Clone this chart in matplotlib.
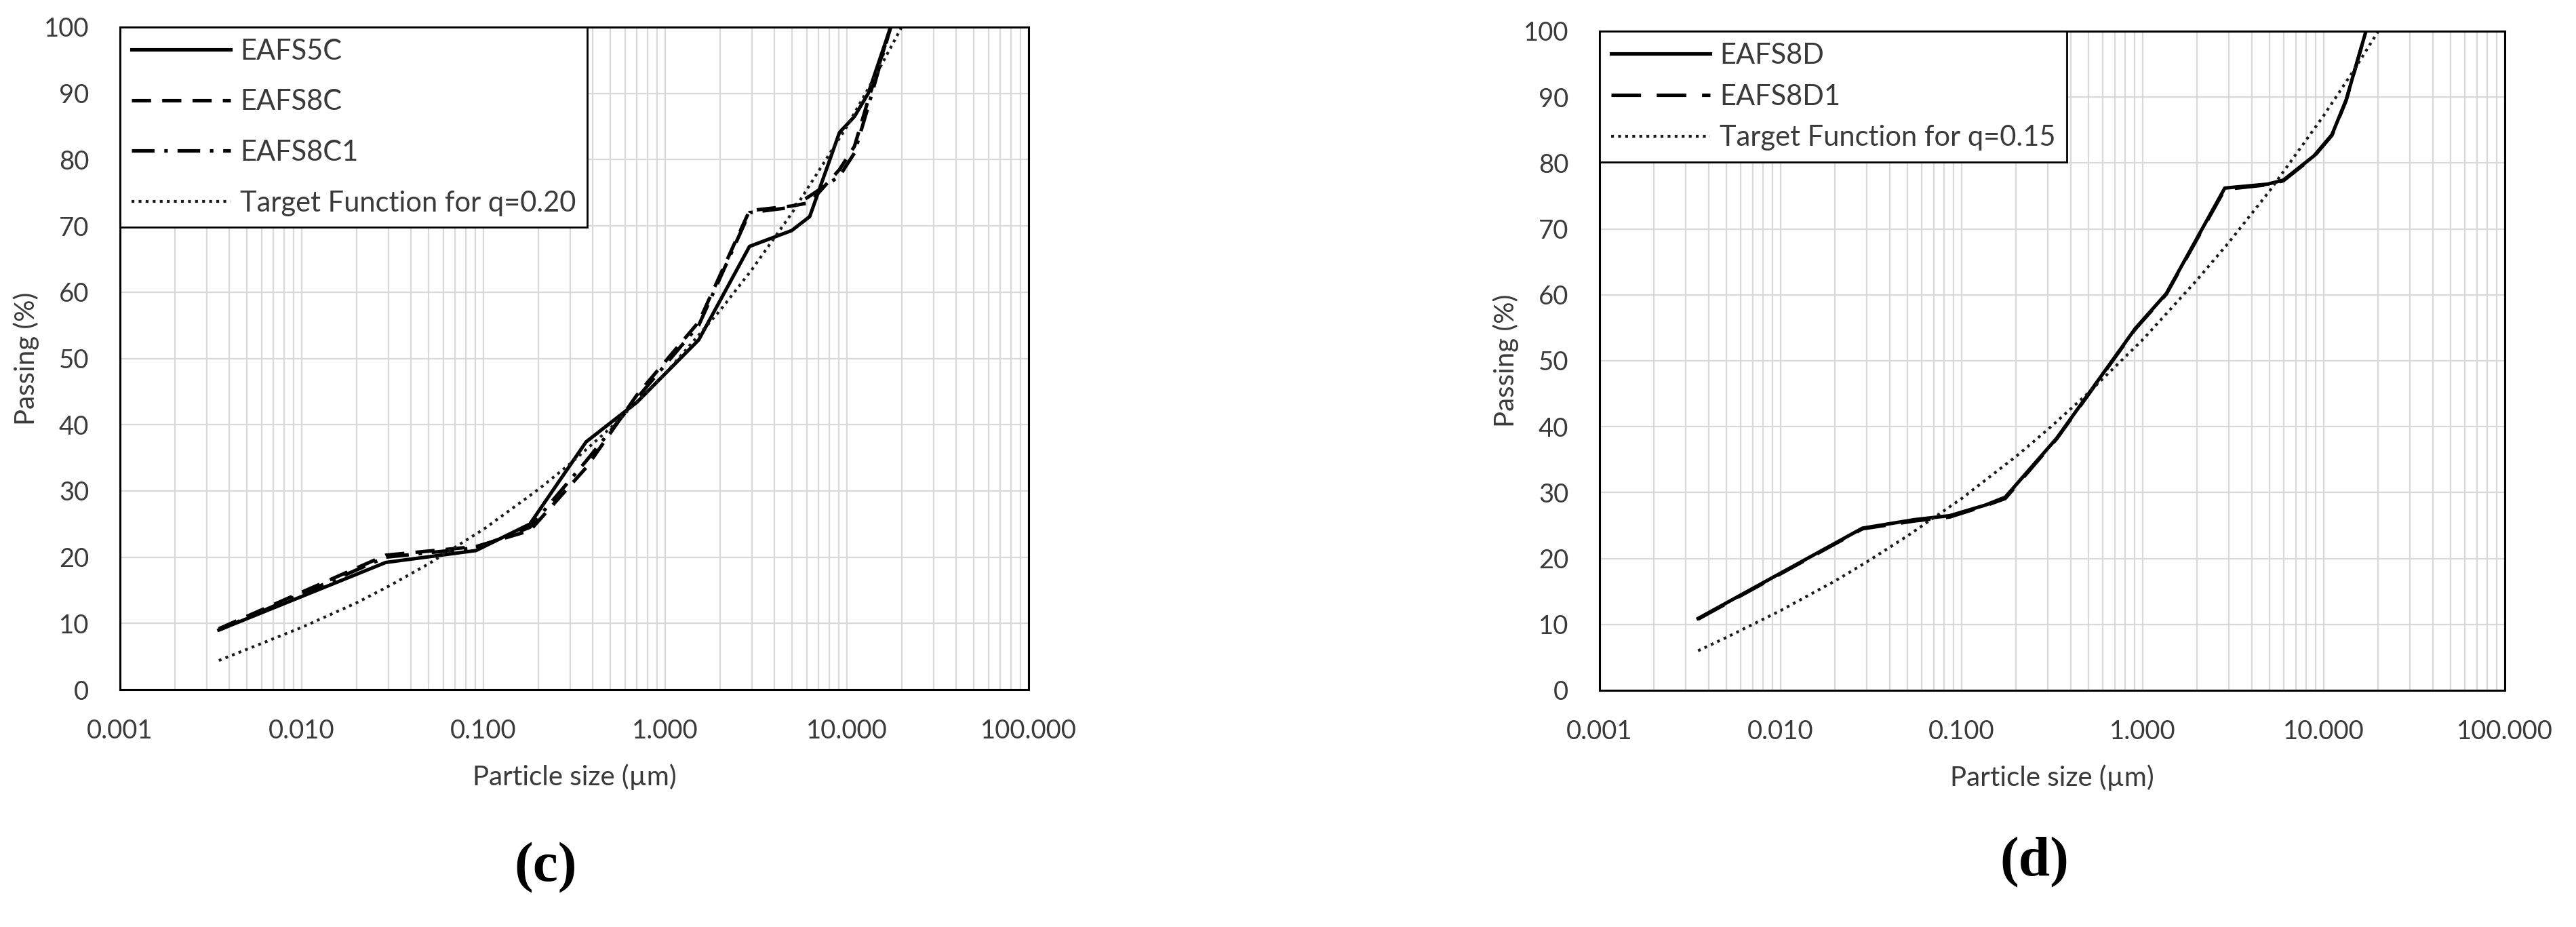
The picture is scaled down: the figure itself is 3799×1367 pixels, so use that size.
import matplotlib
matplotlib.use("Agg")
import matplotlib.pyplot as plt
from matplotlib.ticker import FixedLocator, LogLocator, FixedFormatter, NullFormatter

plt.rcParams['font.family'] = ['Lato', 'DejaVu Sans']

# ---------------- data: panel (c) ----------------
size_5c = [0.0035, 0.029, 0.091, 0.180, 0.367, 0.70, 1.53, 2.91, 4.97, 6.24, 9.1, 11.0, 13.1, 17.4]
pass_5c = [9.0, 19.2, 21.0, 25.0, 37.4, 43.4, 52.8, 66.9, 69.3, 71.4, 84.1, 86.5, 90.0, 100.0]

size_8c = [0.0035, 0.029, 0.091, 0.180, 0.367, 0.70, 1.53, 2.91, 4.97, 6.24, 9.1, 11.0, 13.1, 17.4]
pass_8c = [9.2, 20.3, 21.6, 24.0, 33.5, 44.5, 55.5, 72.3, 73.0, 73.5, 78.5, 82.0, 89.0, 100.0]

size_8c1 = [0.0035, 0.029, 0.091, 0.180, 0.367, 0.70, 1.53, 2.91, 4.97, 6.24, 9.1, 11.0, 13.1, 17.4]
pass_8c1 = [9.0, 20.0, 21.4, 24.5, 34.5, 44.0, 55.0, 72.0, 72.8, 74.5, 77.5, 81.0, 88.0, 100.0]

size_tc = [0.0035, 0.005, 0.01, 0.02, 0.03, 0.05, 0.1, 0.2, 0.3, 0.5, 1, 2, 3, 5, 10, 15, 20]
pass_tc = [4.4, 6.1, 9.4, 13.1, 15.6, 19.0, 24.2, 30.2, 34.1, 39.5, 47.7, 57.2, 63.4, 72.0, 85.0, 93.6, 100.0]

# ---------------- data: panel (d) ----------------
size_8d = [0.0035, 0.0283, 0.055, 0.086, 0.135, 0.174, 0.336, 0.91, 1.35, 2.84, 4.9, 5.98, 8.84, 11.1, 13.3, 17.1]
pass_8d = [10.9, 24.6, 25.9, 26.5, 28.1, 29.3, 38.3, 54.9, 60.2, 76.2, 76.8, 77.4, 81.1, 84.3, 89.6, 100.0]

size_8d1 = [0.0035, 0.0283, 0.055, 0.086, 0.135, 0.174, 0.336, 0.91, 1.35, 2.84, 4.9, 5.98, 8.84, 11.1, 13.3, 17.1]
pass_8d1 = [10.8, 24.5, 25.7, 26.3, 28.0, 29.1, 38.2, 54.8, 60.1, 76.0, 76.7, 77.3, 81.0, 84.2, 89.5, 100.0]

size_td = [0.0035, 0.005, 0.01, 0.02, 0.03, 0.05, 0.1, 0.2, 0.3, 0.5, 1, 2, 3, 5, 10, 15, 20]
pass_td = [6.0, 8.0, 12.1, 16.6, 19.5, 23.4, 29.1, 35.5, 39.6, 45.1, 53.2, 62.3, 68.0, 75.7, 87.2, 94.5, 100.0]

xticks = [0.001, 0.01, 0.1, 1, 10, 100]
xtick_labels = ["0.001", "0.010", "0.100", "1.000", "10.000", "100.000"]
yticks = [0, 10, 20, 30, 40, 50, 60, 70, 80, 90, 100]

W, H = 3799, 1367
fig = plt.figure(figsize=(W / 100, H / 100), dpi=100)
ax1 = fig.add_axes([177 / W, 1 - 1017 / H, (1517 - 177) / W, (1017 - 40) / H])
ax2 = fig.add_axes([2359 / W, 1 - 1018 / H, (3694 - 2359) / W, (1018 - 46) / H])

txt_col = '#3a3a3a'
grid_col = '#d9d9d9'


def style(ax):
    ax.set_xscale('log')
    ax.set_xlim(0.001, 100)
    ax.set_ylim(0, 100)
    ax.xaxis.set_major_locator(FixedLocator(xticks))
    ax.xaxis.set_major_formatter(FixedFormatter(xtick_labels))
    ax.xaxis.set_minor_locator(LogLocator(base=10, subs=range(2, 10), numticks=100))
    ax.xaxis.set_minor_formatter(NullFormatter())
    ax.set_yticks(yticks)
    ax.tick_params(axis='both', which='both', length=0, labelsize=27.5, labelcolor=txt_col)
    ax.tick_params(axis='x', pad=31)
    ax.tick_params(axis='y', pad=33)
    ax.grid(True, which='major', color=grid_col, lw=1.6)
    ax.grid(True, which='minor', axis='x', color=grid_col, lw=1.6)
    ax.set_axisbelow(True)
    for s in ax.spines.values():
        s.set_color('black')
        s.set_linewidth(2.2)
    ax.set_xlabel('Particle size (µm)', fontsize=29, color=txt_col)
    ax.set_ylabel('Passing (%)', fontsize=29, color=txt_col)
    ax.xaxis.set_label_coords(0.5, -0.112)
    ax.yaxis.set_label_coords(-0.089, 0.5)


style(ax1)
style(ax2)

lw = 3.7
ax1.plot(size_5c, pass_5c, color='black', lw=lw, ls='-', label='EAFS5C')
ax1.plot(size_8c, pass_8c, color='black', lw=lw, ls=(0, (5.5, 3.2)), label='EAFS8C')
ax1.plot(size_8c1, pass_8c1, color='black', lw=lw, ls=(0, (6.5, 2.8, 1, 2.8)), label='EAFS8C1')
ax1.plot(size_tc, pass_tc, color='#1a1a1a', lw=3.0, ls=(0, (1, 1.5)), label='Target Function for q=0.20')

ax2.plot(size_8d, pass_8d, color='black', lw=lw, ls='-', label='EAFS8D')
ax2.plot(size_8d1, pass_8d1, color='black', lw=lw, ls=(0, (8.5, 4.5)), label='EAFS8D1')
ax2.plot(size_td, pass_td, color='#1a1a1a', lw=3.0, ls=(0, (1, 1.5)), label='Target Function for q=0.15')


def legend(ax, spacing):
    lg = ax.legend(loc='upper left', bbox_to_anchor=(0, 1), borderaxespad=0,
                   fancybox=False, edgecolor='black', framealpha=1,
                   fontsize=30, handlelength=3.5, handletextpad=0.35,
                   labelspacing=spacing, borderpad=0.4)
    lg.get_frame().set_linewidth(2.0)
    for t in lg.get_texts():
        t.set_color(txt_col)


legend(ax1, 0.88)
legend(ax2, 0.55)

fig.text(805 / W, 1 - 1280 / H, '(c)', fontsize=60, fontweight='bold',
         family=['Liberation Serif', 'DejaVu Serif'], ha='center', va='center')
fig.text(3000 / W, 1 - 1272 / H, '(d)', fontsize=60, fontweight='bold',
         family=['Liberation Serif', 'DejaVu Serif'], ha='center', va='center')

fig.savefig('out.png', dpi=100, facecolor='white')
